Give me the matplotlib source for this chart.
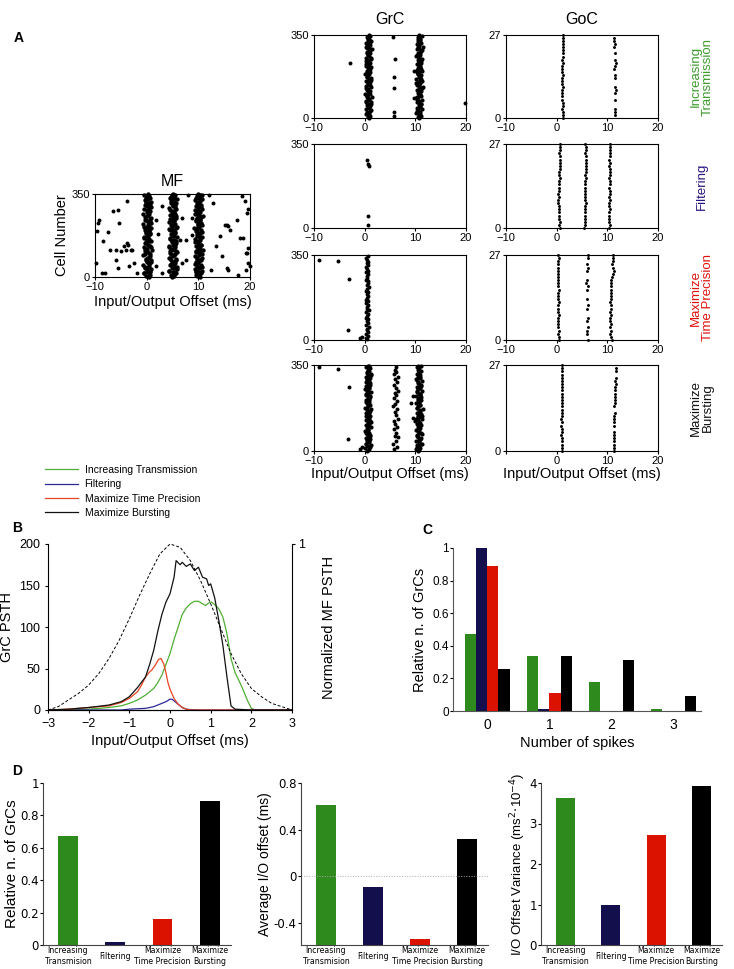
import numpy as np
import matplotlib
matplotlib.use('Agg')
import matplotlib.pyplot as plt

plt.rcParams['font.family'] = ['Liberation Sans', 'DejaVu Sans']
plt.rcParams['axes.linewidth'] = 0.8

W, H = 734, 969

# ---------------- data ----------------
# MF raster (cells fire around 0, 5 and 10 ms)
mf_cells = [3, 9, 15, 22, 27, 33, 40, 46, 51, 58, 64, 70, 75, 82, 88, 95, 101, 106, 113, 119,
            125, 131, 137, 143, 150, 156, 161, 168, 174, 180, 187, 193, 199, 205, 211, 218, 224, 230, 236, 242,
            249, 255, 261, 267, 273, 280, 286, 292, 298, 304, 311, 317, 323, 329, 335, 341, 347, 20, 110, 200]
mf_t0 = [-0.1, 0.6, -0.5, 0.3, 0.0, 0.8, -0.3, 0.4, -0.7, 0.5, 0.1, 0.9, -0.2, 0.2, 0.7, -0.4, 0.4, -0.1, 1.0, 0.1,
         -0.6, 0.6, 0.3, -0.3, 0.8, 0.0, 0.5, -0.5, 0.2, 0.7, -0.2, 0.4, -0.4, 0.9, 0.1, 0.5, -0.7, 0.3, 0.6, -0.1,
         0.8, -0.3, 0.2, 0.5, 0.0, 0.7, -0.5, 0.4, 0.1, 0.6, -0.2, 0.8, -0.4, 0.3, -0.1, 0.5, 0.2, 0.7, -0.3, 0.4]
mf_t5 = [5.3, 4.7, 5.6, 5.0, 4.4, 5.8, 4.9, 5.2, 4.5, 5.5, 5.1, 4.8, 5.7, 4.3, 5.0, 5.4, 4.6, 5.9, 5.2, 4.8,
         5.5, 4.4, 5.1, 5.6, 4.9, 5.3, 4.6, 5.8, 5.0, 4.7, 5.4, 5.2, 4.5, 5.7, 4.9, 5.1, 5.5, 4.3, 5.3, 4.8,
         5.6, 5.0, 4.6, 5.4, 5.2, 4.9, 5.7, 4.4, 5.1, 5.5, 4.7, 5.3, 5.0, 5.8, 4.6, 5.2, 4.9, 5.4, 4.5, 5.1]
mf_t10 = [10.1, 9.6, 10.5, 9.9, 10.8, 9.4, 10.2, 9.7, 10.6, 10.0, 9.5, 10.3, 9.8, 10.7, 9.3, 10.1, 10.4, 9.6, 10.9, 9.9,
          10.2, 9.5, 10.6, 10.0, 9.7, 10.4, 9.4, 10.8, 10.1, 9.8, 10.3, 9.6, 10.5, 9.2, 10.0, 10.7, 9.9, 10.2, 9.5, 10.4,
          9.8, 10.6, 10.1, 9.4, 10.3, 9.7, 10.8, 10.0, 9.6, 10.5, 9.9, 10.2, 9.3, 10.7, 10.0, 9.8, 10.4, 9.5, 10.1, 9.7]
mf_cells2 = [6, 17, 25, 36, 43, 54, 62, 71, 79, 91, 99, 108, 117, 128, 134, 146, 153, 165, 171, 184,
             191, 202, 209, 221, 228, 239, 246, 258, 265, 277, 284, 295, 302, 314, 320, 332, 338, 345, 350, 0]
mf2_t0 = [0.3, -0.6, 0.7, 0.0, -0.3, 0.5, 0.9, -0.1, 0.2, -0.8, 0.6, 0.1, -0.4, 0.8, 0.3, -0.2, 0.5, -0.5, 0.0, 0.7,
          -0.1, 0.4, -0.6, 0.2, 0.9, -0.3, 0.6, 0.1, -0.7, 0.4, 0.0, 0.8, -0.4, 0.3, -0.2, 0.6, 0.1, -0.5, 0.2, 0.5]
mf2_t5 = [4.9, 5.5, 4.4, 5.2, 5.8, 4.7, 5.0, 5.6, 4.5, 5.3, 4.8, 5.7, 5.1, 4.3, 5.4, 4.9, 5.6, 4.6, 5.2, 5.0,
          5.5, 4.4, 5.8, 4.8, 5.1, 5.3, 4.6, 5.7, 4.9, 5.2, 4.5, 5.4, 5.0, 5.6, 4.7, 5.3, 4.8, 5.5, 5.1, 4.9]
mf2_t10 = [9.8, 10.4, 9.5, 10.1, 10.7, 9.3, 10.0, 10.5, 9.7, 10.2, 10.8, 9.6, 10.3, 9.9, 10.6, 9.4, 10.1, 10.4, 9.8, 10.0,
           10.7, 9.5, 10.2, 9.9, 10.5, 9.6, 10.3, 10.9, 9.7, 10.1, 9.4, 10.6, 10.0, 9.8, 10.4, 9.5, 10.2, 10.8, 9.9, 10.3]
mf_sx = [-9.7, -9.2, -9.5, -8.7, -8.1, -8.4, -7.4, -7.1, -6.5, -6.0, -5.9, -5.6, -5.5, -5.3, -5.0, -4.3, -4.0, -3.9, -3.9, -3.7,
         -3.1, -2.8, -1.9, -3.5, -2.5, 1.9, 2.9, 1.9, 6.5, 6.8, 7.7, 8.0, 8.7, 8.7, 7.7, 6.8, 12.1, 12.9, 13.5, 14.2,
         14.5, 15.2, 15.5, 15.8, 16.1, 15.5, 15.8, 17.4, 18.1, 18.4, 18.6, 19.0, 19.4, 19.7, 19.7, 19.2, 19.4, 19.7, 20.0, 19.2,
         17.7, 12.4, -9.9, 3.0, 2.2]
mf_sy = [195, 242, 228, 17, 17, 150, 188, 115, 277, 73, 115, 284, 38, 228, 108, 129, 115, 319, 143, 136,
         115, 115, 17, 45, 59, 45, 17, 242, 158, 59, 73, 347, 249, 179, 158, 249, 347, 312, 129, 172,
         87, 221, 221, 214, 200, 38, 31, 242, 165, 340, 165, 319, 270, 287, 122, 101, 101, 59, 48, 31,
         10, 31, 60, 300, 180]

# GrC rasters
grc1_cells = [4, 9, 15, 21, 26, 32, 38, 44, 49, 55, 61, 66, 72, 78, 84, 89, 95, 101, 106, 112,
              118, 124, 129, 135, 141, 146, 152, 158, 164, 169, 175, 181, 186, 192, 198, 204, 209, 215, 221, 226,
              232, 238, 244, 249, 255, 261, 266, 272, 278, 284, 289, 295, 301, 306, 312, 318, 324, 329, 335, 341,
              346, 12, 87, 163, 240]
grc1_t0 = [0.6, 1.1, 0.3, 0.9, 0.5, 1.3, 0.2, 0.8, 1.0, 0.4, 0.7, 1.2, 0.3, 0.9, 0.6, 1.4, 0.5, 0.1, 0.8, 1.1,
           0.4, 0.7, 1.3, 0.2, 0.9, 0.6, 1.0, 0.3, 0.8, 1.2, 0.5, 0.7, 0.1, 1.1, 0.4, 0.9, 0.6, 1.3, 0.2, 0.8,
           1.0, 0.5, 0.7, 1.2, 0.3, 0.9, 0.6, 1.1, 0.4, 0.8, 1.4, 0.5, 0.2, 1.0, 0.7, 0.3, 1.2, 0.6, 0.9, 0.4,
           1.1, 0.8, 0.5, 1.0, 0.3]
grc1_t10 = [10.5, 11.2, 10.8, 10.2, 11.0, 10.6, 11.4, 10.3, 10.9, 10.7, 11.1, 10.4, 10.8, 11.3, 10.1, 10.6, 11.0, 10.9, 10.5, 11.2,
            10.3, 10.7, 11.5, 10.8, 10.4, 11.0, 10.6, 11.3, 10.2, 10.9, 10.7, 11.1, 10.5, 10.8, 11.4, 10.3, 10.6, 11.0, 10.9, 10.4,
            11.2, 10.7, 10.5, 11.3, 10.8, 10.2, 11.0, 10.6, 10.9, 11.1, 10.4, 10.7, 11.5, 10.8, 10.3, 11.2, 10.6, 10.9, 11.0, 10.5,
            11.3, 10.7, 10.4, 11.1, 10.8]
grc1_cells2 = [1, 18, 30, 47, 58, 69, 81, 92, 103, 115, 127, 138, 149, 161, 172, 184, 195, 207, 218, 229,
               241, 252, 264, 275, 287, 298, 309, 321, 332, 349]
grc1b_t0 = [0.8, 0.4, 1.0, 0.6, 1.2, 0.3, 0.9, 0.5, 1.1, 0.7, 0.2, 1.0, 0.6, 1.3, 0.4, 0.8, 0.5, 1.1, 0.7, 0.3,
            0.9, 1.2, 0.6, 0.4, 1.0, 0.8, 0.5, 1.1, 0.7, 0.9]
grc1b_t10 = [10.7, 11.0, 10.4, 10.9, 11.2, 10.6, 10.3, 11.1, 10.8, 10.5, 11.3, 10.7, 10.2, 10.9, 11.0, 10.6, 10.4, 11.2, 10.8, 10.5,
             11.1, 10.7, 10.3, 10.9, 11.4, 10.6, 10.8, 11.0, 10.5, 10.7]
grc1_sx = [-2.9, 5.5, 6.0, 5.7, 5.8, 5.8, 5.7, 19.9, 9.8, 9.8]
grc1_sy = [232, 340, 248, 175, 128, 24, 8, 63, 197, 83]

grc2_x = [0.4, 0.65, 0.8, 0.6, 0.65]
grc2_y = [282, 268, 258, 50, 12]

grc3_cells = [3, 10, 18, 25, 33, 40, 47, 55, 62, 70, 77, 85, 92, 99, 107, 114, 122, 129, 137, 144,
              151, 159, 166, 174, 181, 189, 196, 203, 211, 218, 226, 233, 241, 248, 255, 263, 270, 278, 285, 293,
              300, 307, 315, 322, 330, 337, 344]
grc3_t0 = [0.5, 0.3, 0.6, 0.2, 0.7, 0.4, 0.5, 0.8, 0.3, 0.6, 0.4, 0.7, 0.2, 0.5, 0.6, 0.3, 0.8, 0.4, 0.5, 0.7,
           0.3, 0.6, 0.2, 0.5, 0.7, 0.4, 0.6, 0.3, 0.5, 0.8, 0.4, 0.6, 0.7, 0.3, 0.5, 0.4, 0.6, 0.2, 0.7, 0.5,
           0.3, 0.6, 0.4, 0.7, 0.5, 0.3, 0.6]
grc3_sx = [-9.0, -5.3, -3.0, -3.3, -1.0, -0.6]
grc3_sy = [329, 325, 251, 43, 7, 11]

grc4_cells = [2, 7, 13, 19, 24, 30, 36, 41, 47, 53, 58, 64, 70, 75, 81, 87, 92, 98, 104, 109,
              115, 121, 126, 132, 138, 143, 149, 155, 160, 166, 172, 177, 183, 189, 194, 200, 206, 211, 217, 223,
              228, 234, 240, 245, 251, 257, 262, 268, 274, 279, 285, 291, 296, 302, 308, 313, 319, 325, 330, 336,
              342, 347, 50, 140, 230]
grc4_t0 = [0.4, 0.9, 0.1, 0.7, 1.2, 0.3, 0.8, 0.5, 1.0, 0.2, 0.6, 1.1, 0.4, 0.9, 0.0, 0.7, 0.5, 1.2, 0.3, 0.8,
           0.6, 1.0, 0.2, 0.9, 0.4, 1.1, 0.7, 0.3, 0.8, 0.5, 1.3, 0.1, 0.6, 1.0, 0.4, 0.8, 0.2, 0.9, 0.6, 1.1,
           0.3, 0.7, 1.2, 0.5, 0.0, 0.8, 0.4, 1.0, 0.6, 0.2, 0.9, 0.5, 1.1, 0.3, 0.7, 1.2, 0.4, 0.8, 0.6, 1.0,
           0.2, 0.7, 0.5, 0.9, 0.3]
grc4_t10 = [10.6, 10.2, 11.0, 10.8, 10.4, 11.3, 10.7, 10.1, 10.9, 11.1, 10.5, 10.3, 11.4, 10.8, 10.6, 10.2, 11.0, 10.7, 11.2, 10.4,
            10.9, 10.0, 10.6, 11.3, 10.8, 10.5, 11.1, 10.3, 10.7, 10.9, 11.5, 10.4, 10.6, 11.0, 10.2, 10.8, 11.2, 10.5, 10.7, 10.1,
            11.0, 10.9, 10.4, 11.3, 10.6, 10.8, 10.3, 11.1, 10.7, 10.5, 11.4, 10.2, 10.9, 10.6, 11.0, 10.4, 10.8, 11.2, 10.5, 10.7,
            10.3, 11.1, 10.9, 10.6, 11.0]
grc4_cells2 = [5, 16, 27, 39, 50, 62, 73, 85, 96, 107, 119, 130, 141, 153, 164, 175, 187, 198, 209, 221,
               232, 243, 255, 266, 277, 289, 300, 311, 323, 345]
grc4b_t0 = [0.6, 1.0, 0.3, 0.8, 0.5, 1.1, 0.2, 0.7, 0.9, 0.4, 1.2, 0.6, 0.3, 0.8, 1.0, 0.5, 0.7, 0.2, 0.9, 1.1,
            0.4, 0.6, 0.8, 0.3, 1.0, 0.5, 0.7, 1.2, 0.4, 0.8]
grc4b_t10 = [10.8, 10.4, 11.1, 10.6, 10.9, 10.3, 11.2, 10.7, 10.5, 11.0, 10.8, 10.2, 11.3, 10.6, 10.9, 10.4, 11.0, 10.7, 10.5, 11.2,
             10.8, 10.3, 10.9, 11.1, 10.6, 10.4, 11.0, 10.7, 10.8, 10.5]
grc4_mid_y = [8, 18, 30, 42, 55, 63, 75, 88, 96, 110, 122, 131, 145, 158, 170, 182, 190, 205, 214, 226,
              238, 246, 258, 270, 280, 292, 303, 312, 322, 331, 340]
grc4_mid_x = [5.8, 6.3, 5.6, 6.1, 6.5, 5.9, 6.2, 5.7, 6.4, 6.0, 5.8, 6.6, 6.1, 5.9, 6.3, 5.6, 6.0, 6.4, 5.8, 6.2,
              5.9, 6.5, 6.1, 5.7, 6.3, 6.0, 6.6, 5.8, 6.2, 5.9, 6.1]
grc4_sx = [-9.0, -5.3, -3.0, -3.2, -1.0, -0.6, 9.5, 9.6, 9.2]
grc4_sy = [342, 335, 259, 48, 10, 17, 223, 133, 195]

# GoC rasters (27 cells)
goc_cells = list(range(28))
goc1_a = [1.2, 1.3, 1.2, 1.1, 1.2, 1.2, 1.1, 1.0, 1.1, 1.1, 1.2, 1.1, 1.0, 1.1, 1.2, 1.1, 1.0, 1.1, 1.2, 1.1,
          1.2, 1.3, 1.2, 1.3, 1.2, 1.3, 1.3, 1.2]
goc1_b_cells = [1, 2, 3, 6, 8, 9, 10, 13, 14, 16, 17, 18, 19, 21, 23, 24, 25, 26]
goc1_b = [11.5, 11.6, 11.5, 11.6, 11.5, 11.7, 11.6, 11.5, 11.6, 11.4, 11.5, 11.7, 11.6, 11.5, 11.4, 11.5, 11.3, 11.4]
goc2_a = [0.6, 0.5, 0.6, 0.5, 0.4, 0.5, 0.4, 0.4, 0.3, 0.3, 0.4, 0.3, 0.4, 0.5, 0.4, 0.5, 0.6, 0.5, 0.5, 0.6,
          0.7, 0.6, 0.7, 0.6, 0.5, 0.6, 0.6, 0.7]
goc2_b = [5.4, 5.5, 5.6, 5.5, 5.5, 5.6, 5.5, 5.6, 5.7, 5.6, 5.6, 5.5, 5.6, 5.6, 5.5, 5.6, 5.7, 5.6, 5.7, 5.8,
          5.7, 5.7, 5.8, 5.7, 5.6, 5.7, 5.7, 5.6]
goc2_c = [10.4, 10.5, 10.4, 10.4, 10.3, 10.4, 10.5, 10.4, 10.4, 10.5, 10.4, 10.5, 10.5, 10.4, 10.5, 10.5, 10.4, 10.6, 10.5, 10.5,
          10.4, 10.5, 10.4, 10.5, 10.5, 10.6, 10.5, 10.5]
goc3_a = [0.4, 0.5, 0.3, 0.4, 0.2, 0.3, 0.2, 0.3, 0.4, 0.3, 0.2, 0.3, 0.4, 0.3, 0.2, 0.3, 0.4, 0.3, 0.2, 0.3,
          0.3, 0.2, 0.3, 0.2, 0.3, 0.3, 0.4, 0.3]
goc3_b_cells = [0, 2, 3, 4, 6, 7, 10, 11, 13, 16, 17, 18, 19, 22, 23, 24, 26, 27]
goc3_b = [6.1, 5.9, 6.0, 6.2, 5.9, 6.1, 5.9, 6.1, 6.0, 6.0, 6.2, 5.8, 6.0, 5.9, 6.2, 6.0, 6.1, 6.1]
goc3_c = [10.9, 10.8, 10.6, 10.7, 10.6, 10.7, 10.6, 10.6, 10.7, 10.6, 10.7, 10.7, 10.6, 10.7, 10.7, 10.8, 10.7, 10.8, 10.7, 10.8,
          10.9, 11.2, 11.3, 11.1, 11.0, 11.1, 11.1, 11.2]
goc4_a = [1.1, 1.0, 1.1, 1.0, 1.0, 0.9, 1.0, 1.0, 0.9, 1.0, 0.9, 1.0, 1.0, 1.1, 1.0, 1.0, 1.1, 1.0, 1.1, 1.0,
          1.1, 1.1, 1.0, 1.1, 1.1, 1.0, 1.1, 1.1]
goc4_b_cells = [0, 1, 2, 3, 4, 5, 6, 8, 9, 10, 11, 12, 14, 15, 16, 17, 18, 19, 20, 21, 22, 23, 25, 26]
goc4_b = [11.4, 11.4, 11.4, 11.3, 11.4, 11.4, 11.3, 11.4, 11.3, 11.4, 11.4, 11.5, 11.4, 11.5, 11.5, 11.6,
          11.6, 11.5, 11.6, 11.7, 11.6, 11.7, 11.8, 11.8]

# Panel B: PSTHs
t_grn = [-3, -2, -1.5, -1.2, -1, -0.8, -0.6, -0.4, -0.3, -0.2, -0.1, 0, 0.1, 0.2, 0.3, 0.4, 0.5, 0.6, 0.7, 0.8,
         0.88, 0.95, 1.02, 1.1, 1.2, 1.3, 1.4, 1.5, 1.6, 1.7, 1.8, 1.9, 2.0, 2.1, 3]
psth_grn = [0, 1, 3, 5, 8, 12, 18, 26, 33, 42, 55, 68, 85, 100, 115, 123, 128, 131, 131, 128,
            126, 129, 130, 127, 122, 112, 92, 62, 45, 35, 24, 12, 2, 0, 0]
t_blu = [-3, -1.2, -1, -0.6, -0.4, -0.2, -0.1, 0, 0.05, 0.1, 0.2, 0.3, 0.4, 0.5, 0.7, 3]
psth_blu = [0, 0, 1, 2, 4, 8, 10, 13, 13, 11, 7, 3, 1, 0.5, 0, 0]
t_red = [-3, -2.5, -2, -1.5, -1.2, -1, -0.8, -0.7, -0.6, -0.5, -0.45, -0.35, -0.28, -0.22, -0.15, -0.1, -0.05, 0,
         0.1, 0.2, 0.3, 0.4, 0.5, 3]
psth_red = [0, 1, 3, 5, 9, 14, 22, 30, 40, 46, 48, 55, 61, 62, 55, 45, 33, 25, 14, 7, 3, 1, 0, 0]
t_blk = [-3, -2.5, -2, -1.5, -1.2, -1, -0.8, -0.6, -0.5, -0.4, -0.3, -0.2, -0.1, 0, 0.1, 0.15, 0.25, 0.3, 0.4, 0.5,
         0.6, 0.7, 0.8, 0.9, 0.95, 1.0, 1.1, 1.2, 1.3, 1.4, 1.5, 1.6, 2, 3]
psth_blk = [0, 1, 3, 6, 10, 16, 27, 40, 55, 72, 95, 115, 130, 140, 160, 180, 175, 178, 173, 176,
            168, 172, 160, 158, 150, 152, 135, 108, 78, 40, 5, 1, 0, 0]
t_mf = [-3, -2.75, -2.5, -2.25, -2, -1.75, -1.5, -1.25, -1, -0.75, -0.5, -0.25, 0, 0.25, 0.5, 0.75, 1, 1.25,
        1.5, 1.75, 2, 2.25, 2.5, 2.75, 3]
psth_mf = [0.0, 0.02, 0.06, 0.1, 0.15, 0.22, 0.31, 0.42, 0.55, 0.69, 0.82, 0.94, 1.0, 0.98, 0.9, 0.78, 0.64, 0.49,
           0.34, 0.22, 0.13, 0.08, 0.04, 0.02, 0.0]

modes = ['Increasing Transmission', 'Filtering', 'Maximize Time Precision', 'Maximize Bursting']
line_cols = ['#4fae33', '#2a2a96', '#e8441f', '#111111']
bar_cols = ['#2f8a1e', '#130e4c', '#dc1200', '#000000']

# Panel C: spike count distribution
n_spikes = [0, 1, 2, 3]
c_vals = [[0.47, 0.34, 0.18, 0.01],
          [1.00, 0.01, 0.00, 0.00],
          [0.89, 0.11, 0.00, 0.00],
          [0.26, 0.34, 0.31, 0.09]]

# Panel D
d_labels = ['Increasing\nTransmision', 'Filtering', 'Maximize\nTime Precision', 'Maximize\nBursting']
d_frac = [0.67, 0.02, 0.16, 0.89]
d_offset = [0.61, -0.09, -0.54, 0.32]
d_var = [3.63, 0.98, 2.72, 3.93]


def box(l, t, r, b):
    return [l / W, 1 - b / H, (r - l) / W, (b - t) / H]


def raster(ax, ymax, xlab=True):
    ax.set_xlim(-10, 20)
    ax.set_ylim(0, ymax)
    ax.set_xticks([-10, 0, 10, 20])
    ax.set_yticks([0, ymax])
    ax.tick_params(direction='out', length=2.5, width=0.8, labelsize=8, pad=1)
    if not xlab:
        ax.set_xticklabels(['', '0', '10', '20'])


def dots(ax, x, y, s=8):
    ax.scatter(x, y, s=s, c='black', linewidths=0, clip_on=False, zorder=3)


fig = plt.figure(figsize=(W / 100, H / 100), dpi=100)

# ---------------- panel A ----------------
fig.text(14 / W, 1 - 38 / H, 'A', fontsize=10, weight='bold', va='center')

ax = fig.add_axes(box(95, 194, 250, 277))
for t in (mf_t0, mf_t5, mf_t10):
    dots(ax, t, mf_cells, 10)
for t in (mf2_t0, mf2_t5, mf2_t10):
    dots(ax, t, mf_cells2, 10)
dots(ax, mf_sx, mf_sy)
raster(ax, 350)
ax.set_title('MF', fontsize=11.5, pad=6)
ax.set_ylabel('Cell Number', fontsize=10.5, labelpad=2)
ax.set_xlabel('Input/Output Offset (ms)', fontsize=10.5, labelpad=2)

rows = [(35, 118), (144, 228), (255, 340), (365, 451)]
grc_axes = [fig.add_axes(box(314, t, 466, b)) for t, b in rows]
goc_axes = [fig.add_axes(box(506, t, 658, b)) for t, b in rows]

a = grc_axes[0]
dots(a, grc1_t0, grc1_cells, 9)
dots(a, grc1_t10, grc1_cells, 9)
dots(a, grc1b_t0, grc1_cells2, 9)
dots(a, grc1b_t10, grc1_cells2, 9)
dots(a, grc1_sx, grc1_sy)
dots(grc_axes[1], grc2_x, grc2_y)
a = grc_axes[2]
dots(a, grc3_t0, grc3_cells)
dots(a, grc3_sx, grc3_sy)
a = grc_axes[3]
dots(a, grc4_t0, grc4_cells, 9)
dots(a, grc4_t10, grc4_cells, 9)
dots(a, grc4b_t0, grc4_cells2, 9)
dots(a, grc4b_t10, grc4_cells2, 9)
dots(a, grc4_mid_x, grc4_mid_y)
dots(a, grc4_sx, grc4_sy)
for a in grc_axes:
    raster(a, 350)
grc_axes[0].set_title('GrC', fontsize=11.5, pad=8)
grc_axes[3].set_xlabel('Input/Output Offset (ms)', fontsize=10.5, labelpad=1)

gs = 4.5
dots(goc_axes[0], goc1_a, goc_cells, gs)
dots(goc_axes[0], goc1_b, goc1_b_cells, gs)
for t in (goc2_a, goc2_b, goc2_c):
    dots(goc_axes[1], t, goc_cells, gs)
dots(goc_axes[2], goc3_a, goc_cells, gs)
dots(goc_axes[2], goc3_b, goc3_b_cells, gs)
dots(goc_axes[2], goc3_c, goc_cells, gs)
dots(goc_axes[3], goc4_a, goc_cells, gs)
dots(goc_axes[3], goc4_b, goc4_b_cells, gs)
for i, a in enumerate(goc_axes):
    raster(a, 27, xlab=(i < 3))
goc_axes[0].set_title('GoC', fontsize=11.5, pad=8)
goc_axes[3].set_xlabel('Input/Output Offset (ms)', fontsize=10.5, labelpad=1)

side = ['Increasing\nTransmission', 'Filtering', 'Maximize\nTime Precision', 'Maximize\nBursting']
side_cols = ['#3c9c2c', '#241482', '#e0120c', '#111111']
for (t, b), lab, col in zip(rows, side, side_cols):
    fig.text(702 / W, 1 - (t + b) / 2 / H, lab, rotation=90, color=col, fontsize=9.5,
             ha='center', va='center', linespacing=1.0)

# ---------------- panel B ----------------
fig.text(12 / W, 1 - 528 / H, 'B', fontsize=10, weight='bold', va='center')
axb = fig.add_axes(box(48, 544, 292, 710))
hl = []
for tx, ty, col, lab in zip([t_grn, t_blu, t_red, t_blk], [psth_grn, psth_blu, psth_red, psth_blk],
                            line_cols, modes):
    l, = axb.plot(tx, ty, color=col, lw=0.9, label=lab)
    hl.append(l)
axb.set_xlim(-3, 3)
axb.set_ylim(0, 200)
axb.set_xticks([-3, -2, -1, 0, 1, 2, 3])
axb.set_yticks([0, 50, 100, 150, 200])
axb.spines['top'].set_visible(False)
axb.spines['right'].set_visible(False)
axb.tick_params(direction='out', length=2.5, labelsize=9, pad=3)
axb.set_ylabel('GrC PSTH', fontsize=10.5, labelpad=4)
axb.set_xlabel('Input/Output Offset (ms)', fontsize=10.5, labelpad=3)
axm = axb.twinx()
axm.plot(t_mf, psth_mf, color='black', lw=0.7, ls=(0, (3, 2)))
axm.set_ylim(0, 1)
axm.set_yticks([1])
axm.spines['top'].set_visible(False)
axm.spines['left'].set_visible(False)
axm.tick_params(direction='out', length=2.5, labelsize=9, pad=2)
axm.set_ylabel('Normalized MF PSTH', fontsize=10.5, labelpad=12)
fig.legend(hl, modes, loc='upper left', bbox_to_anchor=(45 / W, 1 - 465 / H), frameon=False,
           fontsize=7.5, handlelength=3.2, labelspacing=0.42, borderpad=0, borderaxespad=0,
           handletextpad=0.6)

# ---------------- panel C ----------------
fig.text(422 / W, 1 - 530 / H, 'C', fontsize=10, weight='bold', va='center')
axc = fig.add_axes(box(453, 548, 701, 711))
bw = 0.18
for k in range(4):
    axc.bar(np.array(n_spikes) + (k - 1.5) * bw, c_vals[k], width=bw, color=bar_cols[k])
axc.set_xlim(-0.55, 3.44)
axc.set_ylim(0, 1)
axc.set_xticks(n_spikes)
axc.set_yticks([0, 0.2, 0.4, 0.6, 0.8, 1])
axc.set_yticklabels(['0', '0.2', '0.4', '0.6', '0.8', '1'])
axc.spines['top'].set_visible(False)
axc.spines['right'].set_visible(False)
axc.spines['bottom'].set_color('#555555')
axc.spines['left'].set_color('#555555')
axc.tick_params(axis='y', direction='out', length=2, labelsize=8.5, pad=1)
axc.tick_params(axis='x', length=0, labelsize=10, pad=5)
axc.set_ylabel('Relative n. of GrCs', fontsize=10.5, labelpad=4)
axc.set_xlabel('Number of spikes', fontsize=10.5, labelpad=3)

# ---------------- panel D ----------------
fig.text(12 / W, 1 - 771 / H, 'D', fontsize=10, weight='bold', va='center')
narrow = ['Liberation Sans Narrow', 'DejaVu Sans']
dboxes = [(43, 783, 231, 945), (301, 783, 488, 945), (541, 783, 722, 945)]
xs = np.arange(len(d_labels))
for i, (bx, vals) in enumerate(zip(dboxes, [d_frac, d_offset, d_var])):
    ax = fig.add_axes(box(*bx))
    if i == 1:
        ylo = -0.59
        ax.bar(xs, np.array(vals) - ylo, bottom=ylo, width=0.42, color=bar_cols)
        ax.axhline(0, color='#aaaaaa', lw=0.7, ls=':')
        ax.set_ylim(ylo, 0.8)
        ax.set_yticks([-0.4, 0, 0.4, 0.8])
        ax.set_yticklabels(['-0.4', '0', '0.4', '0.8'], family=narrow)
        ax.set_ylabel('Average I/O offset (ms)', fontsize=10, labelpad=1)
    elif i == 0:
        ax.bar(xs, vals, width=0.42, color=bar_cols)
        ax.set_ylim(0, 1)
        ax.set_yticks([0, 0.2, 0.4, 0.6, 0.8, 1])
        ax.set_yticklabels(['0', '0.2', '0.4', '0.6', '0.8', '1'], family=narrow)
        ax.set_ylabel('Relative n. of GrCs', fontsize=11, labelpad=1)
    else:
        ax.bar(xs, vals, width=0.42, color=bar_cols)
        ax.set_ylim(0, 4)
        ax.set_yticks([0, 1, 2, 3, 4])
        ax.set_yticklabels(['0', '1', '2', '3', '4'], family=narrow)
        ax.set_ylabel('I/O Offset Variance (ms$^{2}$$\\cdot$10$^{-4}$)', fontsize=9.5, labelpad=1)
    ax.set_xlim(-0.53, 3.45)
    ax.set_xticks(xs)
    ax.set_xticklabels(d_labels, family=narrow, fontsize=5.6, va='center', linespacing=1.3)
    ax.tick_params(axis='x', length=0, pad=8)
    ax.tick_params(axis='y', direction='out', length=2, labelsize=8.5, pad=1)
    ax.spines['top'].set_visible(False)
    ax.spines['right'].set_visible(False)
    ax.spines['bottom'].set_color('#444444')
    ax.spines['left'].set_color('#444444')

fig.savefig('out.png', dpi=100)
